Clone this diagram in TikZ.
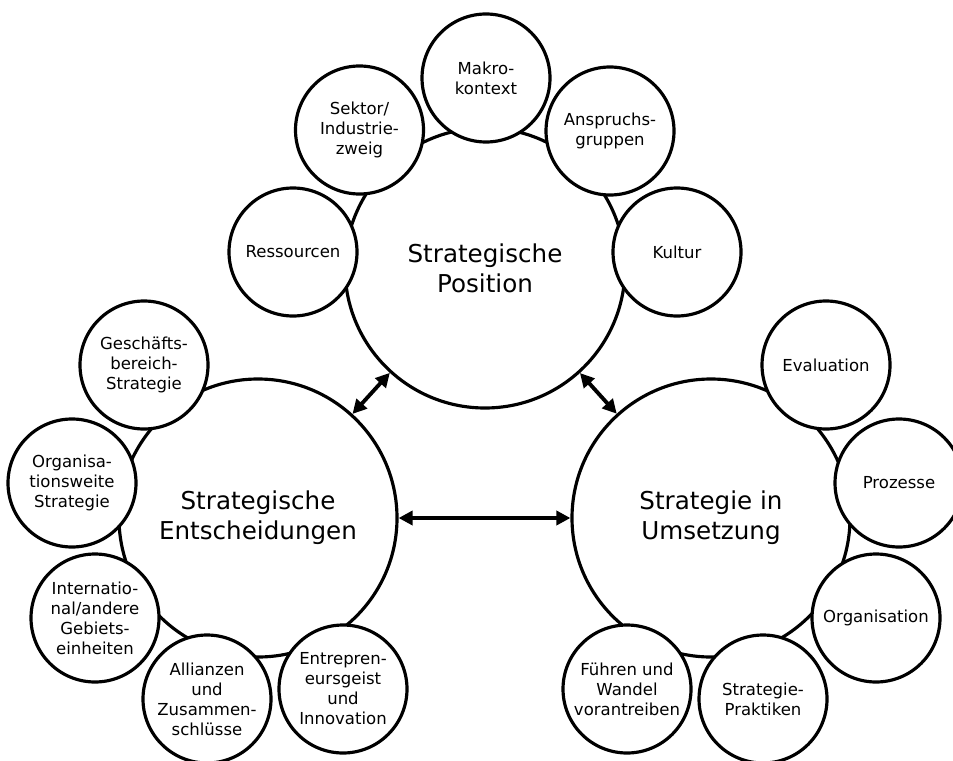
\documentclass[tikz,border=0pt]{standalone}
\usepackage{fontspec}
\setmainfont{DejaVu Sans}
\usetikzlibrary{arrows.meta}

\begin{document}
\begin{tikzpicture}[
    bigcirc/.style={circle, draw, line width=1.8pt, minimum size=5.56cm, inner sep=0pt,
        align=center, font=\fontsize{14}{17}\selectfont},
    smallcirc/.style={circle, draw, fill=white, line width=1.8pt, minimum size=2.56cm,
        inner sep=0pt, align=center, font=\fontsize{9.4}{11.4}\selectfont},
    link/.style={line width=2.2pt, {Triangle[length=8pt,width=8pt]}-{Triangle[length=8pt,width=8pt]}}
]
    \useasboundingbox (0,0) rectangle (19.06,15.2);
    %\draw[very thin,color=gray] (0,0) grid (19,15);
    % the three main circles
    \node[bigcirc, minimum size=5.6cm] (pos) at (9.70,9.84) {Strategische\\Position};
    \node[bigcirc] (ent) at (5.16,4.84) {Strategische\\Entscheidungen};
    \node[bigcirc] (ums) at (14.22,4.84) {Strategie in\\Umsetzung};

    \draw[link] (pos) -- (ent);
    \draw[link] (pos) -- (ums);
    \draw[link] (ent) -- (ums);

    % around Strategische Position
    \node[smallcirc] (makro) at (9.72,13.64) {Makro-\\kontext};
    \node[smallcirc] (sektor) at (7.19,12.60) {Sektor/\\Industrie-\\zweig};
    \node[smallcirc] (anspr) at (12.20,12.58) {Anspruchs-\\gruppen};
    \node[smallcirc] (ress) at (5.86,10.16) {Ressourcen};
    \node[smallcirc] (kultur) at (13.54,10.16) {Kultur};

    % around Strategische Entscheidungen
    \node[smallcirc] (gesch) at (2.88,7.90) {Geschäfts-\\bereich-\\Strategie};
    \node[smallcirc] (orgweit) at (1.44,5.54) {Organisa-\\tionsweite\\Strategie};
    \node[smallcirc] (intl) at (1.90,2.84) {Internatio-\\nal/andere\\Gebiets-\\einheiten};
    \node[smallcirc] (allianz) at (4.14,1.22) {Allianzen\\und\\Zusammen-\\schlüsse};
    \node[smallcirc] (entre) at (6.86,1.42) {Entrepren-\\eursgeist\\und\\Innovation};

    % around Strategie in Umsetzung
    \node[smallcirc] (eval) at (16.52,7.90) {Evaluation};
    \node[smallcirc] (proz) at (17.98,5.54) {Prozesse};
    \node[smallcirc] (orga) at (17.52,2.84) {Organisation};
    \node[smallcirc] (prakt) at (15.26,1.22) {Strategie-\\Praktiken};
    \node[smallcirc] (fuehren) at (12.54,1.42) {Führen und\\Wandel\\vorantreiben};
\end{tikzpicture}
\end{document}
